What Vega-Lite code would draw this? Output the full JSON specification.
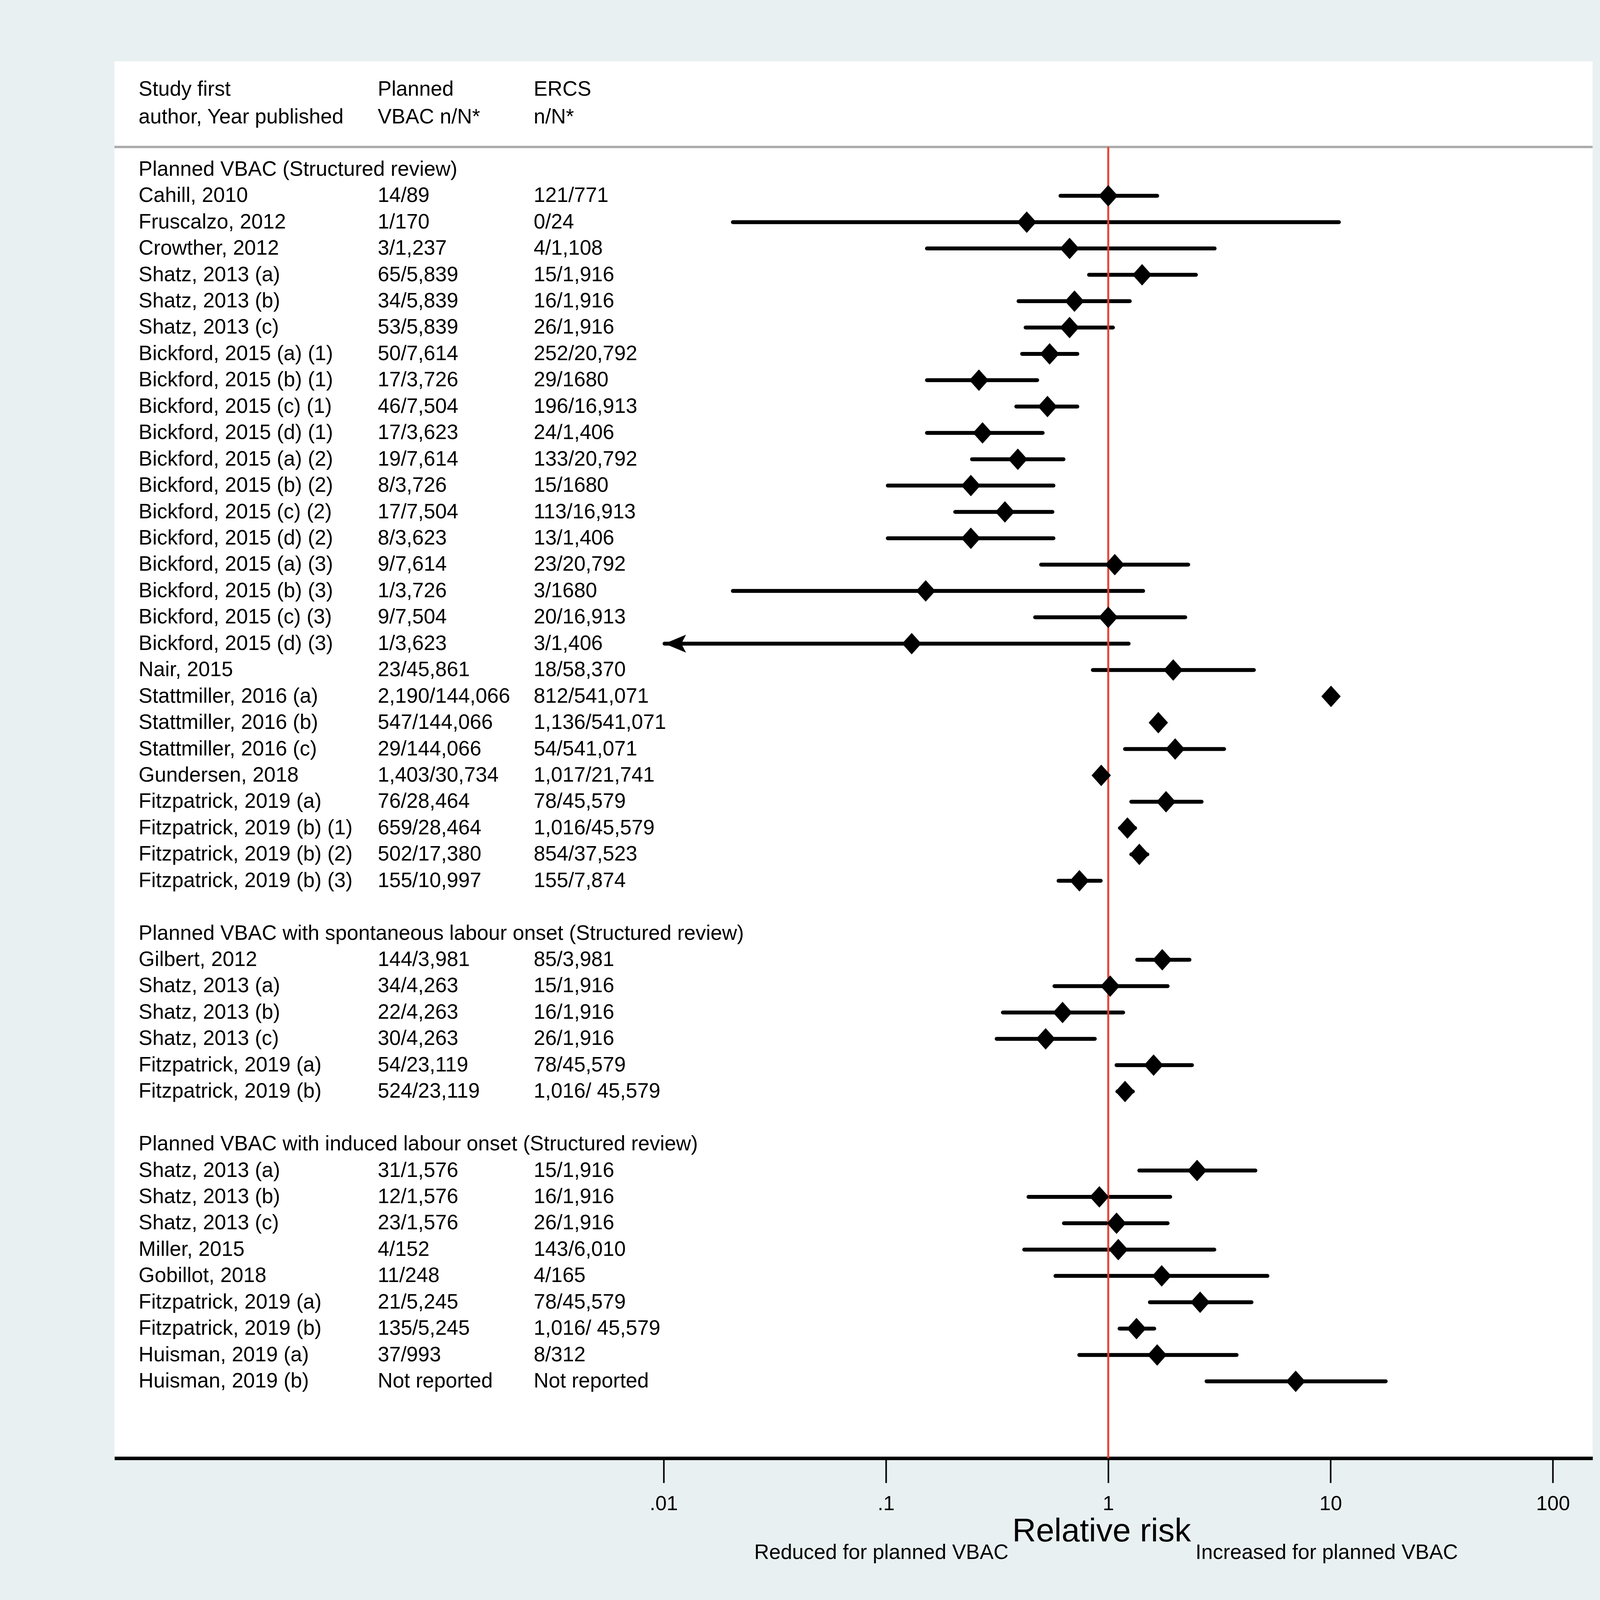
{
  "$schema": "https://vega.github.io/schema/vega-lite/v6.json",
  "width": 4328,
  "height": 4303,
  "autosize": {"type": "fit", "contains": "padding"},
  "padding": {"left": 290, "top": 157, "right": 248, "bottom": 252},
  "background": "#e9f0f2",
  "config": {
    "view": {"fill": "white", "stroke": null},
    "font": "Liberation Sans",
    "text": {"font": "Liberation Sans", "color": "black"}
  },
  "datasets": {
    "studies": [
      {"row": 1, "study": "Planned VBAC (Structured review)"},
      {"row": 2, "study": "Cahill, 2010", "vbac": "14/89", "ercs": "121/771", "rr": 1.0, "lo": 0.61, "hi": 1.66},
      {"row": 3, "study": "Fruscalzo, 2012", "vbac": "1/170", "ercs": "0/24", "rr": 0.43, "lo": 0.0205, "hi": 10.9},
      {"row": 4, "study": "Crowther, 2012", "vbac": "3/1,237", "ercs": "4/1,108", "rr": 0.67, "lo": 0.153, "hi": 3.01},
      {"row": 5, "study": "Shatz, 2013 (a)", "vbac": "65/5,839", "ercs": "15/1,916", "rr": 1.42, "lo": 0.82, "hi": 2.48},
      {"row": 6, "study": "Shatz, 2013 (b)", "vbac": "34/5,839", "ercs": "16/1,916", "rr": 0.705, "lo": 0.395, "hi": 1.25},
      {"row": 7, "study": "Shatz, 2013 (c)", "vbac": "53/5,839", "ercs": "26/1,916", "rr": 0.67, "lo": 0.425, "hi": 1.05},
      {"row": 8, "study": "Bickford, 2015 (a) (1)", "vbac": "50/7,614", "ercs": "252/20,792", "rr": 0.545, "lo": 0.41, "hi": 0.726},
      {"row": 9, "study": "Bickford, 2015 (b) (1)", "vbac": "17/3,726", "ercs": "29/1680", "rr": 0.262, "lo": 0.153, "hi": 0.479},
      {"row": 10, "study": "Bickford, 2015 (c) (1)", "vbac": "46/7,504", "ercs": "196/16,913", "rr": 0.533, "lo": 0.386, "hi": 0.726},
      {"row": 11, "study": "Bickford, 2015 (d) (1)", "vbac": "17/3,623", "ercs": "24/1,406", "rr": 0.272, "lo": 0.153, "hi": 0.507},
      {"row": 12, "study": "Bickford, 2015 (a) (2)", "vbac": "19/7,614", "ercs": "133/20,792", "rr": 0.392, "lo": 0.244, "hi": 0.629},
      {"row": 13, "study": "Bickford, 2015 (b) (2)", "vbac": "8/3,726", "ercs": "15/1680", "rr": 0.241, "lo": 0.102, "hi": 0.567},
      {"row": 14, "study": "Bickford, 2015 (c) (2)", "vbac": "17/7,504", "ercs": "113/16,913", "rr": 0.343, "lo": 0.205, "hi": 0.561},
      {"row": 15, "study": "Bickford, 2015 (d) (2)", "vbac": "8/3,623", "ercs": "13/1,406", "rr": 0.241, "lo": 0.102, "hi": 0.567},
      {"row": 16, "study": "Bickford, 2015 (a) (3)", "vbac": "9/7,614", "ercs": "23/20,792", "rr": 1.07, "lo": 0.499, "hi": 2.29},
      {"row": 17, "study": "Bickford, 2015 (b) (3)", "vbac": "1/3,726", "ercs": "3/1680", "rr": 0.151, "lo": 0.0205, "hi": 1.435},
      {"row": 18, "study": "Bickford, 2015 (c) (3)", "vbac": "9/7,504", "ercs": "20/16,913", "rr": 1.0, "lo": 0.469, "hi": 2.22},
      {"row": 19, "study": "Bickford, 2015 (d) (3)", "vbac": "1/3,623", "ercs": "3/1,406", "rr": 0.1306, "lo": 0.0101, "hi": 1.235, "truncated": true},
      {"row": 20, "study": "Nair, 2015", "vbac": "23/45,861", "ercs": "18/58,370", "rr": 1.96, "lo": 0.853, "hi": 4.52},
      {"row": 21, "study": "Stattmiller, 2016 (a)", "vbac": "2,190/144,066", "ercs": "812/541,071", "rr": 10.05, "lo": 9.5, "hi": 10.6},
      {"row": 22, "study": "Stattmiller, 2016 (b)", "vbac": "547/144,066", "ercs": "1,136/541,071", "rr": 1.68, "lo": 1.58, "hi": 1.79},
      {"row": 23, "study": "Stattmiller, 2016 (c)", "vbac": "29/144,066", "ercs": "54/541,071", "rr": 2.0, "lo": 1.19, "hi": 3.32},
      {"row": 24, "study": "Gundersen, 2018", "vbac": "1,403/30,734", "ercs": "1,017/21,741", "rr": 0.93, "lo": 0.87, "hi": 1.0},
      {"row": 25, "study": "Fitzpatrick, 2019 (a)", "vbac": "76/28,464", "ercs": "78/45,579", "rr": 1.82, "lo": 1.27, "hi": 2.63},
      {"row": 26, "study": "Fitzpatrick, 2019 (b) (1)", "vbac": "659/28,464", "ercs": "1,016/45,579", "rr": 1.22, "lo": 1.13, "hi": 1.32},
      {"row": 27, "study": "Fitzpatrick, 2019 (b) (2)", "vbac": "502/17,380", "ercs": "854/37,523", "rr": 1.38, "lo": 1.27, "hi": 1.5},
      {"row": 28, "study": "Fitzpatrick, 2019 (b) (3)", "vbac": "155/10,997", "ercs": "155/7,874", "rr": 0.742, "lo": 0.598, "hi": 0.925},
      {"row": 30, "study": "Planned VBAC with spontaneous labour onset (Structured review)"},
      {"row": 31, "study": "Gilbert, 2012", "vbac": "144/3,981", "ercs": "85/3,981", "rr": 1.75, "lo": 1.35, "hi": 2.32},
      {"row": 32, "study": "Shatz, 2013 (a)", "vbac": "34/4,263", "ercs": "15/1,916", "rr": 1.02, "lo": 0.573, "hi": 1.85},
      {"row": 33, "study": "Shatz, 2013 (b)", "vbac": "22/4,263", "ercs": "16/1,916", "rr": 0.623, "lo": 0.336, "hi": 1.167},
      {"row": 34, "study": "Shatz, 2013 (c)", "vbac": "30/4,263", "ercs": "26/1,916", "rr": 0.523, "lo": 0.315, "hi": 0.87},
      {"row": 35, "study": "Fitzpatrick, 2019 (a)", "vbac": "54/23,119", "ercs": "78/45,579", "rr": 1.6, "lo": 1.09, "hi": 2.38},
      {"row": 36, "study": "Fitzpatrick, 2019 (b)", "vbac": "524/23,119", "ercs": "1,016/ 45,579", "rr": 1.19, "lo": 1.1, "hi": 1.29},
      {"row": 38, "study": "Planned VBAC with induced labour onset (Structured review)"},
      {"row": 39, "study": "Shatz, 2013 (a)", "vbac": "31/1,576", "ercs": "15/1,916", "rr": 2.51, "lo": 1.38, "hi": 4.59},
      {"row": 40, "study": "Shatz, 2013 (b)", "vbac": "12/1,576", "ercs": "16/1,916", "rr": 0.912, "lo": 0.438, "hi": 1.9},
      {"row": 41, "study": "Shatz, 2013 (c)", "vbac": "23/1,576", "ercs": "26/1,916", "rr": 1.09, "lo": 0.632, "hi": 1.85},
      {"row": 42, "study": "Miller, 2015", "vbac": "4/152", "ercs": "143/6,010", "rr": 1.11, "lo": 0.419, "hi": 3.0},
      {"row": 43, "study": "Gobillot, 2018", "vbac": "11/248", "ercs": "4/165", "rr": 1.74, "lo": 0.579, "hi": 5.2},
      {"row": 44, "study": "Fitzpatrick, 2019 (a)", "vbac": "21/5,245", "ercs": "78/45,579", "rr": 2.59, "lo": 1.54, "hi": 4.41},
      {"row": 45, "study": "Fitzpatrick, 2019 (b)", "vbac": "135/5,245", "ercs": "1,016/ 45,579", "rr": 1.34, "lo": 1.125, "hi": 1.61},
      {"row": 46, "study": "Huisman, 2019 (a)", "vbac": "37/993", "ercs": "8/312", "rr": 1.66, "lo": 0.741, "hi": 3.78},
      {"row": 47, "study": "Huisman, 2019 (b)", "vbac": "Not reported", "ercs": "Not reported", "rr": 6.97, "lo": 2.77, "hi": 17.7}
    ],
    "header": [
      {"row": -2.03, "study": "Study first", "vbac": "Planned", "ercs": "ERCS"},
      {"row": -0.98, "study": "author, Year published", "vbac": "VBAC n/N*", "ercs": "n/N*"}
    ],
    "one": [{}]
  },
  "layer": [
    {
      "data": {"name": "studies"},
      "transform": [{"filter": "isValid(datum.rr)"}],
      "mark": {"type": "rule", "color": "black", "strokeWidth": 10, "strokeCap": "round"},
      "encoding": {
        "x": {
          "field": "lo",
          "type": "quantitative",
          "scale": {"type": "log", "domain": [0.00003387, 150.9], "nice": false},
          "title": null,
          "axis": {
            "values": [0.01, 0.1, 1, 10, 100],
            "format": "~g",
            "labelExpr": "datum.value < 0.05 ? '.01' : datum.value < 0.5 ? '.1' : datum.label",
            "grid": false,
            "domainColor": "black",
            "domainWidth": 9,
            "tickColor": "black",
            "tickWidth": 4,
            "tickSize": 63,
            "labelFontSize": 52,
            "labelFont": "Liberation Sans",
            "labelColor": "black",
            "labelPadding": 28,
            "labelFlush": false,
            "labelOverlap": false,
            "title": null
          }
        },
        "x2": {"field": "hi"},
        "y": {
          "field": "row",
          "type": "quantitative",
          "scale": {"domain": [-3.104, 49.919], "reverse": true, "nice": false, "zero": false},
          "axis": null
        }
      }
    },
    {
      "data": {"name": "one"},
      "mark": {"type": "rule", "color": "#aaaaaa", "strokeWidth": 6},
      "encoding": {
        "x": {"datum": 0.00003387, "type": "quantitative", "title": null},
        "x2": {"datum": 150.9},
        "y": {"datum": 0.148, "type": "quantitative", "axis": null}
      }
    },
    {
      "data": {"name": "one"},
      "mark": {"type": "rule", "color": "#e8412f", "strokeWidth": 5},
      "encoding": {
        "x": {"datum": 1, "type": "quantitative", "title": null},
        "y": {"datum": 0.148, "type": "quantitative", "axis": null},
        "y2": {"datum": 49.919}
      }
    },
    {
      "data": {"name": "studies"},
      "transform": [{"filter": "isValid(datum.rr)"}],
      "mark": {"type": "point", "shape": "M-0.9,0L0,-1L0.9,0L0,1Z", "filled": true, "color": "black", "opacity": 1, "size": 3025},
      "encoding": {
        "x": {"field": "rr", "type": "quantitative", "title": null},
        "y": {"field": "row", "type": "quantitative", "axis": null}
      }
    },
    {
      "data": {"name": "studies"},
      "transform": [{"filter": "datum.truncated === true"}],
      "mark": {"type": "point", "shape": "M0,0L1,-0.42L0.78,0L1,0.42Z", "filled": true, "color": "black", "opacity": 1, "size": 12100},
      "encoding": {
        "x": {"field": "lo", "type": "quantitative", "title": null},
        "y": {"field": "row", "type": "quantitative", "axis": null}
      }
    },
    {
      "data": {"name": "studies"},
      "mark": {"type": "text", "align": "left", "baseline": "middle", "fontSize": 53},
      "encoding": {
        "x": {"datum": 0.0000435, "type": "quantitative", "title": null},
        "y": {"field": "row", "type": "quantitative", "axis": null},
        "text": {"field": "study"}
      }
    },
    {
      "data": {"name": "studies"},
      "transform": [{"filter": "isValid(datum.vbac)"}],
      "mark": {"type": "text", "align": "left", "baseline": "middle", "fontSize": 53},
      "encoding": {
        "x": {"datum": 0.0005176, "type": "quantitative", "title": null},
        "y": {"field": "row", "type": "quantitative", "axis": null},
        "text": {"field": "vbac"}
      }
    },
    {
      "data": {"name": "studies"},
      "transform": [{"filter": "isValid(datum.ercs)"}],
      "mark": {"type": "text", "align": "left", "baseline": "middle", "fontSize": 53},
      "encoding": {
        "x": {"datum": 0.002604, "type": "quantitative", "title": null},
        "y": {"field": "row", "type": "quantitative", "axis": null},
        "text": {"field": "ercs"}
      }
    },
    {
      "data": {"name": "header"},
      "mark": {"type": "text", "align": "left", "baseline": "middle", "fontSize": 53},
      "encoding": {
        "x": {"datum": 0.0000435, "type": "quantitative", "title": null},
        "y": {"field": "row", "type": "quantitative", "axis": null},
        "text": {"field": "study"}
      }
    },
    {
      "data": {"name": "header"},
      "mark": {"type": "text", "align": "left", "baseline": "middle", "fontSize": 53},
      "encoding": {
        "x": {"datum": 0.0005176, "type": "quantitative", "title": null},
        "y": {"field": "row", "type": "quantitative", "axis": null},
        "text": {"field": "vbac"}
      }
    },
    {
      "data": {"name": "header"},
      "mark": {"type": "text", "align": "left", "baseline": "middle", "fontSize": 53},
      "encoding": {
        "x": {"datum": 0.002604, "type": "quantitative", "title": null},
        "y": {"field": "row", "type": "quantitative", "axis": null},
        "text": {"field": "ercs"}
      }
    },
    {
      "data": {"name": "one"},
      "mark": {"type": "text", "align": "center", "baseline": "middle", "fontSize": 84, "text": "Relative risk"},
      "encoding": {
        "x": {"datum": 0.934, "type": "quantitative", "title": null},
        "y": {"datum": 52.71, "type": "quantitative", "axis": null}
      }
    },
    {
      "data": {"name": "one"},
      "mark": {"type": "text", "align": "right", "baseline": "middle", "fontSize": 53, "text": "Reduced for planned VBAC"},
      "encoding": {
        "x": {"datum": 0.356, "type": "quantitative", "title": null},
        "y": {"datum": 53.5, "type": "quantitative", "axis": null}
      }
    },
    {
      "data": {"name": "one"},
      "mark": {"type": "text", "align": "left", "baseline": "middle", "fontSize": 53, "text": "Increased for planned VBAC"},
      "encoding": {
        "x": {"datum": 2.47, "type": "quantitative", "title": null},
        "y": {"datum": 53.5, "type": "quantitative", "axis": null}
      }
    }
  ]
}
